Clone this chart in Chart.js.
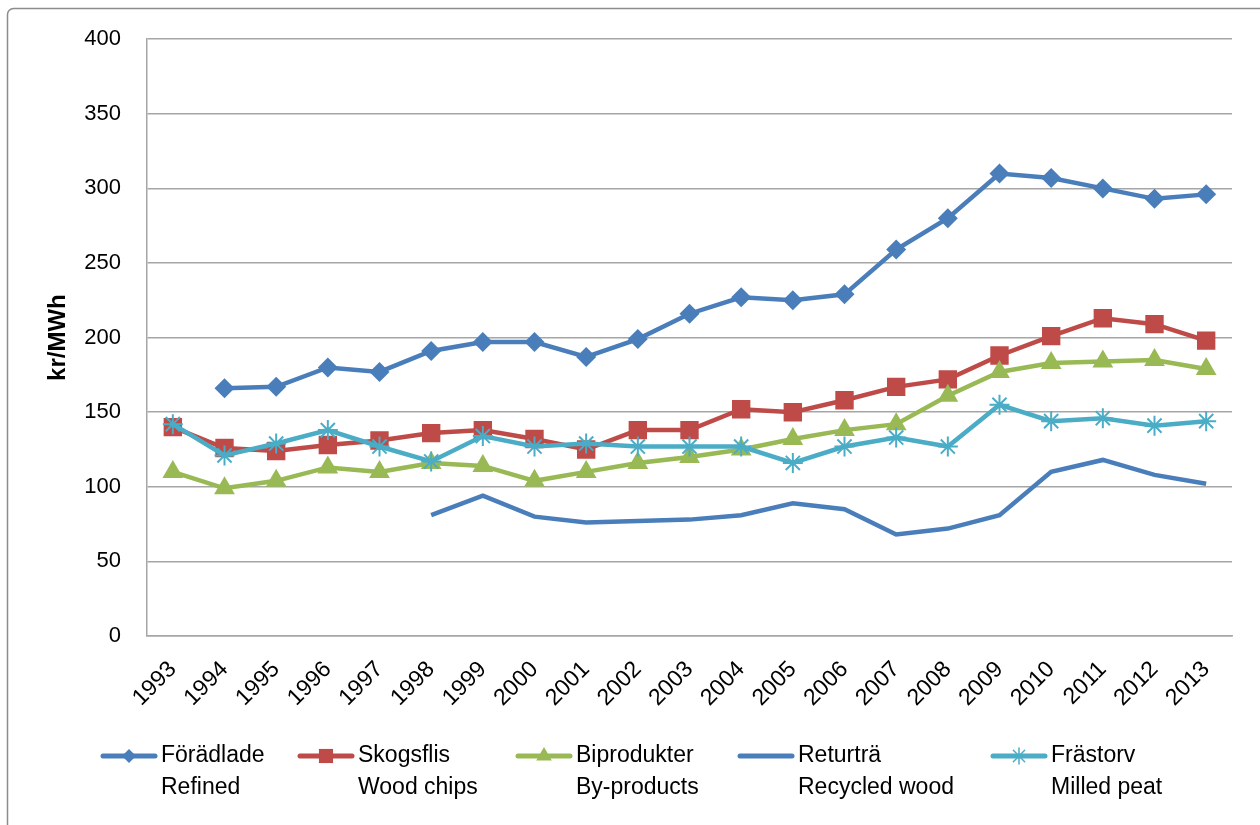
<!DOCTYPE html>
<html>
<head>
<meta charset="utf-8">
<title>kr/MWh 1993-2013</title>
<script src="https://cdn.jsdelivr.net/npm/chart.js@4/dist/chart.umd.min.js"></script>
<style>
  html, body { margin: 0; padding: 0; background: #fff; }
  #chart { display: block; }
</style>
</head>
<body>
<canvas id="chart" width="1260" height="825"></canvas>
<script>
// Years on the category axis
const years = ['1993', '1994', '1995', '1996', '1997', '1998', '1999', '2000', '2001', '2002', '2003',
  '2004', '2005', '2006', '2007', '2008', '2009', '2010', '2011', '2012', '2013'];

// Series values, kr/MWh
const refined = [null, 166, 167, 180, 177, 191, 197, 197, 187, 199, 216, 227, 225, 229, 259, 280, 310, 307, 300, 293, 296];
const woodChips = [140, 126, 124, 128, 131, 136, 138, 132, 125, 138, 138, 152, 150, 158, 167, 172, 188, 201, 213, 209, 198];
const byProducts = [110, 99, 104, 113, 110, 116, 114, 104, 110, 116, 120, 125, 132, 138, 142, 161, 177, 183, 184, 185, 179];
const recycledWood = [null, null, null, null, null, 81, 94, 80, 76, 77, 78, 81, 89, 85, 68, 72, 81, 110, 118, 108, 102];
const milledPeat = [142, 121, 129, 138, 127, 117, 134, 127, 129, 127, 127, 127, 116, 127, 133, 127, 155, 144, 146, 141, 144];

// Legend labels (Swedish / English)
const seriesNames = ['Förädlade', 'Skogsflis', 'Biprodukter', 'Returträ', 'Frästorv'];
const seriesNamesEn = ['Refined', 'Wood chips', 'By-products', 'Recycled wood', 'Milled peat'];

const yTicks = [0, 50, 100, 150, 200, 250, 300, 350, 400];
const yTitle = 'kr/MWh';

const FONT = '"Liberation Sans", Arial, sans-serif';
const colors = ['#4A7EBB', '#BE4B48', '#98B954', '#4A7EBB', '#4BACC6'];
const pointStyles = ['rectRot', 'rect', 'triangle', false, 'star'];
const pointRadii = [10, 13, 12, 0, 10];
const legendRadii = [7, 10, 9, 0, 8];
const legendX = [103, 300, 518, 740, 993];

(function () {
  const canvas = document.getElementById('chart');
  const values = [refined, woodChips, byProducts, recycledWood, milledPeat];

  const datasets = values.map((data, i) => ({
    label: seriesNames[i],
    data,
    borderColor: colors[i],
    backgroundColor: colors[i],
    borderWidth: 4.5,
    pointStyle: pointStyles[i],
    pointRadius: pointRadii[i],
    pointHoverRadius: pointRadii[i],
    pointBorderWidth: pointStyles[i] === 'star' ? 2 : 0,
    pointBorderColor: colors[i],
    pointBackgroundColor: colors[i],
    tension: 0,
    spanGaps: false,
    order: values.length - i   // later series painted on top, like the original
  }));

  // grey frame round the chart, only top/left show in the picture
  const framePlugin = {
    id: 'frame',
    beforeDraw(chart) {
      const ctx = chart.ctx;
      ctx.save();
      ctx.fillStyle = '#fff';
      ctx.fillRect(0, 0, chart.width, chart.height);
      ctx.strokeStyle = '#8C8C8C';
      ctx.lineWidth = 1.5;
      ctx.beginPath();
      ctx.roundRect(7.5, 8.5, 1300, 900, 6);
      ctx.stroke();
      ctx.restore();
    }
  };

  // two line legend under the axis
  const legendPlugin = {
    id: 'twoLineLegend',
    afterDraw(chart) {
      const ctx = chart.ctx;
      ctx.save();
      seriesNames.forEach((name, i) => {
        const x0 = legendX[i];
        const y = 756;
        ctx.strokeStyle = colors[i];
        ctx.lineWidth = 5;
        ctx.lineCap = 'round';
        ctx.beginPath();
        ctx.moveTo(x0, y);
        ctx.lineTo(x0 + 52, y);
        ctx.stroke();
        if (pointStyles[i]) {
          ctx.fillStyle = colors[i];
          ctx.strokeStyle = colors[i];
          ctx.lineWidth = 1.5;
          Chart.helpers.drawPoint(ctx, {
            pointStyle: pointStyles[i],
            radius: legendRadii[i],
            rotation: 0,
            borderWidth: pointStyles[i] === 'star' ? 1.5 : 0
          }, x0 + 26, y);
        }
        ctx.fillStyle = '#000';
        ctx.font = '23px ' + FONT;
        ctx.textAlign = 'left';
        ctx.textBaseline = 'middle';
        ctx.fillText(name, x0 + 58, y);
        ctx.fillText(seriesNamesEn[i], x0 + 58, y + 32);
      });
      ctx.restore();
    }
  };

  new Chart(canvas.getContext('2d'), {
    type: 'line',
    data: { labels: years, datasets },
    options: {
      responsive: false,
      animation: false,
      events: [],
      layout: { padding: { left: 40, top: 38, right: 28, bottom: 0 } },
      plugins: {
        legend: { display: false },
        tooltip: { enabled: false }
      },
      scales: {
        x: {
          offset: true,
          grid: { display: false, drawTicks: false },
          border: { display: true, color: '#A6A6A6', width: 1.5 },
          ticks: {
            color: '#000',
            font: { family: FONT, size: 23 },
            minRotation: 45,
            maxRotation: 45,
            padding: 20,
            autoSkip: false
          },
          afterFit(scale) { scale.height = 189; }
        },
        y: {
          min: 0,
          max: 400,
          afterBuildTicks(scale) { scale.ticks = yTicks.map(v => ({ value: v })); },
          grid: { color: '#A6A6A6', lineWidth: 1.5, drawTicks: false },
          border: { display: true, color: '#A6A6A6', width: 1.5 },
          ticks: {
            color: '#000',
            font: { family: FONT, size: 22 },
            padding: 26
          },
          title: {
            display: true,
            text: yTitle,
            color: '#000',
            font: { family: FONT, size: 24, weight: 'bold' },
            padding: { top: 4, bottom: 4 }
          },
          afterFit(scale) { scale.width = 107; }
        }
      }
    },
    plugins: [framePlugin, legendPlugin]
  });
})();
</script>
</body>
</html>
